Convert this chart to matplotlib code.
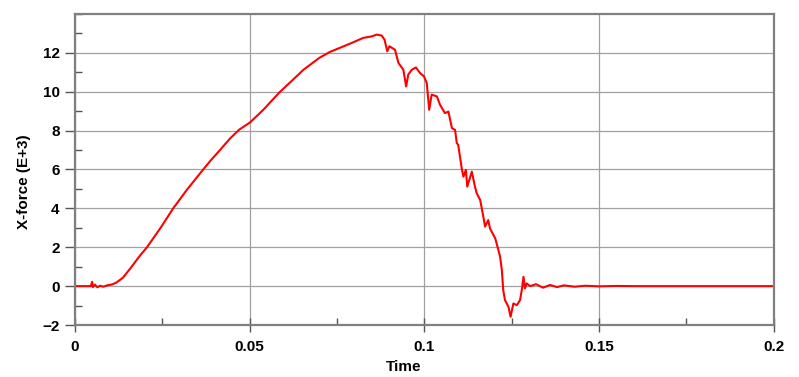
import matplotlib
matplotlib.use("Agg")
import matplotlib.pyplot as plt
from matplotlib.ticker import MultipleLocator

plt.rcParams.update({
    "font.family": "Liberation Sans",
    "font.weight": "bold",
    "font.size": 11,
})

# X-force history
time = [0.0, 0.0045, 0.0049, 0.0051, 0.0057, 0.0064, 0.0072, 0.0081, 0.0094,
        0.0105, 0.0118, 0.0137, 0.0160, 0.0185, 0.0206, 0.0245, 0.0281,
        0.0320, 0.0367, 0.0390, 0.0415, 0.0444, 0.0470, 0.0501, 0.0539,
        0.0587, 0.0620, 0.0654, 0.0700, 0.0730, 0.0787, 0.0825, 0.0850,
        0.0864, 0.0878, 0.0886, 0.0894, 0.0900, 0.0916, 0.0926, 0.0940,
        0.0948, 0.0954, 0.0964, 0.0976, 0.0988, 0.0999, 0.1007, 0.1014,
        0.1021, 0.1036, 0.1045, 0.1059, 0.1069, 0.1079, 0.1088, 0.1093,
        0.1097, 0.1102, 0.1107, 0.1112, 0.1119, 0.1123, 0.1136, 0.1145,
        0.1150, 0.1160, 0.1169, 0.1174, 0.1183, 0.1188, 0.1198, 0.1203,
        0.1207, 0.1217, 0.1222, 0.1226, 0.1231, 0.1241, 0.1247, 0.1255,
        0.1265, 0.1274, 0.1279, 0.1284, 0.1288, 0.1293, 0.1303, 0.1320,
        0.1340, 0.1360, 0.1380, 0.1400, 0.1430, 0.1460, 0.1500, 0.1550,
        0.1600, 0.2000]
force = [0.0, 0.0, 0.22, -0.05, 0.08, -0.06, 0.02, -0.03, 0.05,
         0.08, 0.18, 0.43, 0.95, 1.55, 2.0, 3.0, 4.0,
         4.95, 6.0, 6.5, 7.0, 7.6, 8.05, 8.42, 9.07,
         10.0, 10.55, 11.13, 11.75, 12.05, 12.47, 12.77, 12.85,
         12.94, 12.89, 12.68, 12.08, 12.34, 12.16, 11.48, 11.13,
         10.27, 10.88, 11.13, 11.25, 10.96, 10.79, 10.45, 9.07,
         9.85, 9.76, 9.33, 8.9, 8.98, 8.13, 8.04, 7.36,
         7.27, 6.67, 6.07, 5.63, 5.98, 5.12, 5.89, 5.12,
         4.78, 4.43, 3.57, 3.06, 3.4, 2.97, 2.63, 2.46,
         2.2, 1.51, 0.82, -0.21, -0.72, -1.07, -1.58, -0.89,
         -0.98, -0.72, -0.21, 0.48, -0.12, 0.14, 0.0, 0.1,
         -0.08, 0.06, -0.05, 0.04, -0.03, 0.02, -0.01, 0.01,
         0.0, 0.0]

fig = plt.figure(figsize=(7.99, 3.77), dpi=100)
ax = fig.add_axes([0.0939, 0.1379, 0.8743, 0.825])

ax.plot(time, force, color="#ff0000", lw=1.5)

ax.set_xlim(0, 0.2)
ax.set_ylim(-2, 14)
ax.xaxis.set_minor_locator(MultipleLocator(0.025))
ax.yaxis.set_minor_locator(MultipleLocator(1))
ax.set_xticks([0, 0.05, 0.1, 0.15, 0.2])
ax.set_xticklabels(["0", "0.05", "0.1", "0.15", "0.2"])
ax.set_yticks([-2, 0, 2, 4, 6, 8, 10, 12])

ax.grid(True, which="major", color="#a0a0a0", lw=0.9)
ax.set_axisbelow(True)
for s in ax.spines.values():
    s.set_color("#808080")
    s.set_linewidth(1.6)

ax.tick_params(axis="y", which="major", direction="out", length=7, width=1, color="#555555", pad=4)
ax.tick_params(axis="x", which="major", direction="inout", length=10, width=1, color="#555555", pad=6)
ax.tick_params(which="minor", direction="in", length=5, width=1, color="#555555")

ax.set_xlabel("Time", fontweight="bold")
ax.xaxis.set_label_coords(0.471, -0.112)
ax.set_ylabel("X-force (E+3)", fontweight="bold")
ax.yaxis.set_label_coords(-0.063, 0.46)

fig.savefig("out.png", dpi=100)
